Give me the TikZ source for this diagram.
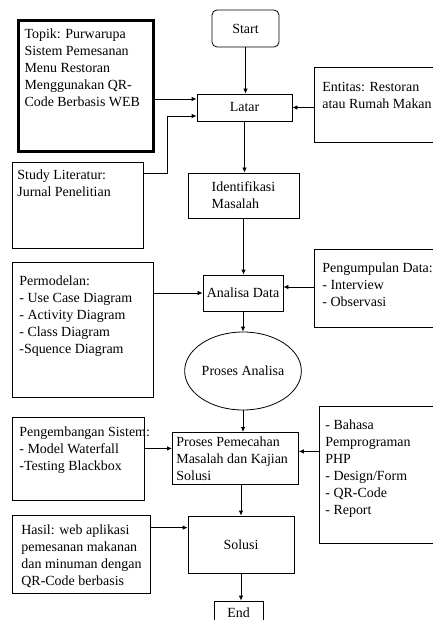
\documentclass[tikz,border=0pt]{standalone}
\usepackage{fontspec}
\setmainfont{Liberation Serif}
\usetikzlibrary{arrows.meta,shapes.geometric,calc}
\tikzset{
  kotak/.style={draw, line width=0.8bp, anchor=north west, inner sep=0pt},
  langkah/.style={draw, line width=0.8bp, inner sep=2bp, align=center},
  panah/.style={-{Latex[length=5bp,width=4.5bp]}, line width=0.8bp},
}
% isi kotak: lebar, tinggi, baris-baris
\newcommand{\isi}[3]{\parbox[t][#2][t]{#1}{\begin{tabular}[t]{@{}l@{}}#3\end{tabular}}}

\begin{document}
\begin{tikzpicture}[x=1bp,y=-1bp,font=\fontsize{14}{17}\selectfont]
\useasboundingbox (0,0) rectangle (433,620);
% alur tengah
\node[langkah, rounded corners=5bp, minimum width=67bp, minimum height=37bp] (start) at (245.5,28.5) {Start};
\node[langkah, minimum width=95bp, minimum height=27bp] (latar) at (244.5,107.5) {Latar};
\node[langkah, align=left, minimum width=111bp, minimum height=45bp] (identifikasi) at (243.5,195.5) {Identifikasi\\Masalah};
\node[langkah, minimum width=80bp, minimum height=36bp] (analisa) at (243,293) {Analisa Data};
\node[draw, ellipse, line width=0.8bp, minimum width=110bp, minimum height=78bp, inner sep=0pt] (prosesanalisa) at (243,371) {Proses Analisa};
\node[kotak, inner xsep=4bp, inner ysep=2bp] (pemecahan) at (172,432) {\isi{118bp}{48bp}{Proses Pemecahan\\Masalah dan Kajian\\Solusi}};
\node[langkah, minimum width=106bp, minimum height=57bp] (solusi) at (241,544.5) {Solusi};
\node[langkah, minimum width=49bp, minimum height=24bp] (selesai) at (238.5,613) {End};
% kotak kiri
\node[kotak, line width=3bp, inner xsep=6.5bp, inner ysep=6bp] (topik) at (16.5,19.5) {\isi{122bp}{118bp}{Topik: Purwarupa\\Sistem Pemesanan\\Menu Restoran\\Menggunakan QR-\\Code Berbasis WEB}};
\node[kotak, inner xsep=5bp, inner ysep=5.4bp] (studi) at (12,162) {\isi{121bp}{75.2bp}{Study Literatur:\\Jurnal Penelitian}};
\node[kotak, inner xsep=7bp, inner ysep=11.4bp] (permodelan) at (12,262) {\isi{127bp}{112.2bp}{Permodelan:\\- Use Case Diagram\\- Activity Diagram\\- Class Diagram\\-Squence Diagram}};
\node[kotak, inner xsep=7bp, inner ysep=7.4bp] (pengembangan) at (12,417) {\isi{118bp}{68.2bp}{Pengembangan Sistem:\\- Model Waterfall\\-Testing Blackbox}};
\node[kotak, inner xsep=9bp, inner ysep=7.4bp] (hasil) at (12,515) {\isi{120bp}{63.2bp}{Hasil: web aplikasi\\pemesanan makanan\\dan minuman dengan\\QR-Code berbasis}};
% kotak kanan
\node[kotak, inner xsep=8bp, inner ysep=12.4bp] (entitas) at (314,67) {\isi{114bp}{50.2bp}{Entitas: Restoran\\atau Rumah Makan}};
\node[kotak, inner xsep=8bp, inner ysep=11.4bp] (pengumpulan) at (314,249) {\isi{114bp}{55.2bp}{Pengumpulan Data:\\- Interview\\- Observasi}};
\node[kotak, inner xsep=6bp, inner ysep=11.4bp] (bahasa) at (319,406) {\isi{113bp}{114.2bp}{- Bahasa\\Pemprograman\\PHP\\- Design/Form\\- QR-Code\\- Report}};
% titik masuk panah
\coordinate (latarA) at ($(latar.west)+(0,-8.5)$);
\coordinate (latarB) at ($(latar.west)+(0,8.5)$);
\coordinate (analisaA) at ($(analisa.east)+(0,-6)$);
\coordinate (pecahA) at ($(pemecahan.west)+(0,-10)$);
\coordinate (pecahB) at ($(pemecahan.east)+(0,-7)$);
\coordinate (solusiA) at ($(solusi.north west)+(0,12)$);
% panah
\draw[panah] (start.south) -- (start.south |- latar.north);
\draw[panah] (topik.east |- latarA) -- (latarA);
\draw[panah] ($(studi.north east)+(0,11)$) -- ++(24,0) |- (latarB);
\draw[panah] (entitas.west |- latar.east) -- (latar.east);
\draw[panah] (latar.south) -- (latar.south |- identifikasi.north);
\draw[panah] (identifikasi.south) -- (identifikasi.south |- analisa.north);
\draw[panah] (permodelan.east |- analisa.west) -- (analisa.west);
\draw[panah] (pengumpulan.west |- analisaA) -- (analisaA);
\draw[panah] (analisa.south) -- (prosesanalisa.north);
\draw[panah] (prosesanalisa.south) -- (prosesanalisa.south |- pemecahan.north);
\draw[panah] (pengembangan.east |- pecahA) -- (pecahA);
\draw[panah] (bahasa.west |- pecahB) -- (pecahB);
\draw[panah] (solusi.north |- pemecahan.south) -- (solusi.north);
\draw[panah] (hasil.east |- solusiA) -- (solusiA);
\draw[panah] (solusi.south) -- (solusi.south |- selesai.north);
\end{tikzpicture}
\end{document}
